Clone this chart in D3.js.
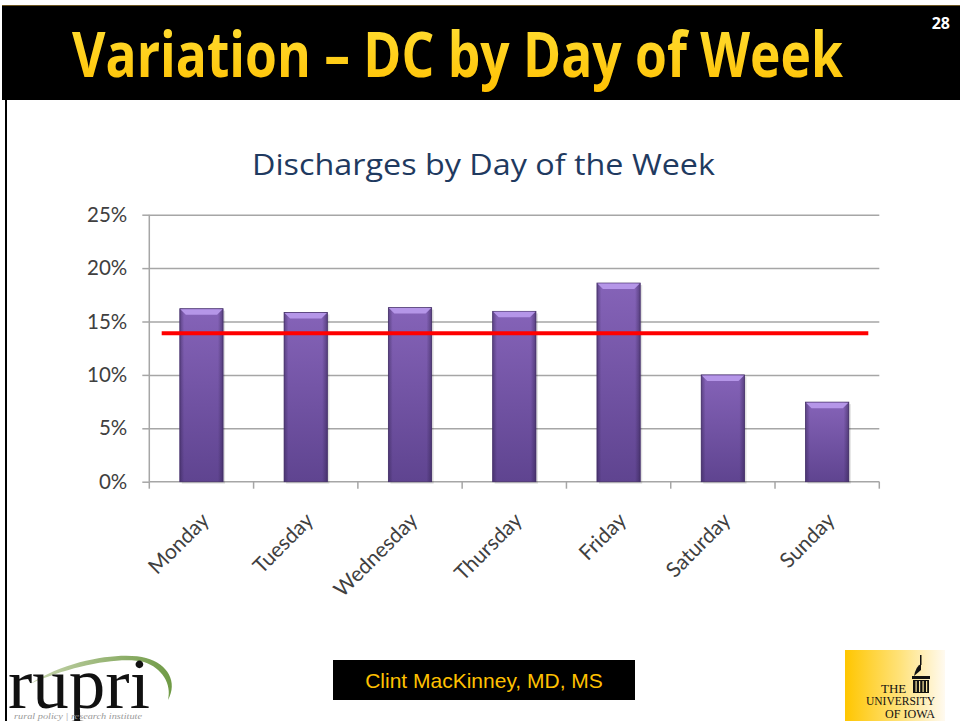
<!DOCTYPE html>
<html>
<head>
<meta charset="utf-8">
<script src="https://cdn.jsdelivr.net/npm/d3@7"></script>
<style>
	html, body { margin: 0; padding: 0; background: #fff; }
	svg { display: block; }
</style>
</head>
<body>
<div id="slide"></div>
<script>
const DAYS = ["Monday", "Tuesday", "Wednesday", "Thursday", "Friday", "Saturday", "Sunday"];
const SHARES = [16.2, 15.85, 16.3, 15.95, 18.6, 10.0, 7.45];
const AVERAGE_SHARE = 13.9;
const Y_TICKS = [0, 5, 10, 15, 20, 25];

const width = 960;
const height = 721;
const margin = { top: 214.7, right: 80.7, bottom: 239.3, left: 149.3 };

let svg = d3.select("#slide")
	.append("svg")
		.attr("width", width)
		.attr("height", height)
		.attr("viewBox", `0 0 ${width} ${height}`);

let defs = svg.append("defs");

let titleGrad = defs.append("linearGradient")
	.attr("id", "titleGrad")
	.attr("x1", 0).attr("y1", 0).attr("x2", 0).attr("y2", 1);
titleGrad.append("stop").attr("offset", "0%").attr("stop-color", "#ffe23a");
titleGrad.append("stop").attr("offset", "100%").attr("stop-color", "#ffbf00");

let barGrad = defs.append("linearGradient")
	.attr("id", "barGrad")
	.attr("x1", 0).attr("y1", 0).attr("x2", 0).attr("y2", 1);
barGrad.append("stop").attr("offset", "0%").attr("stop-color", "#8563b8");
barGrad.append("stop").attr("offset", "100%").attr("stop-color", "#5f4490");

let barSide = defs.append("linearGradient")
	.attr("id", "barSide")
	.attr("x1", 0).attr("y1", 0).attr("x2", 1).attr("y2", 0);
barSide.append("stop").attr("offset", "0%").attr("stop-color", "#2e1f4a").attr("stop-opacity", 0.45);
barSide.append("stop").attr("offset", "10%").attr("stop-color", "#2e1f4a").attr("stop-opacity", 0);
barSide.append("stop").attr("offset", "88%").attr("stop-color", "#2e1f4a").attr("stop-opacity", 0);
barSide.append("stop").attr("offset", "100%").attr("stop-color", "#2e1f4a").attr("stop-opacity", 0.5);

let iowaGrad = defs.append("linearGradient")
	.attr("id", "iowaGrad")
	.attr("x1", 0).attr("y1", 0).attr("x2", 1).attr("y2", 0);
iowaGrad.append("stop").attr("offset", "0%").attr("stop-color", "#ffc600");
iowaGrad.append("stop").attr("offset", "55%").attr("stop-color", "#ffe27a");
iowaGrad.append("stop").attr("offset", "100%").attr("stop-color", "#fffaf0");

let swooshGrad = defs.append("linearGradient")
	.attr("id", "swooshGrad")
	.attr("x1", 0).attr("y1", 0).attr("x2", 1).attr("y2", 0);
swooshGrad.append("stop").attr("offset", "0%").attr("stop-color", "#c9d6b0");
swooshGrad.append("stop").attr("offset", "100%").attr("stop-color", "#6f9a45");

// slide frame
svg.append("rect")
	.attr("x", 2).attr("y", 5)
	.attr("width", width - 2).attr("height", 95)
	.attr("fill", "#000");
svg.append("line")
	.attr("x1", 2).attr("x2", width)
	.attr("y1", 5.5).attr("y2", 5.5)
	.attr("stroke", "#6b5420");
svg.append("line")
	.attr("x1", 6).attr("x2", 6)
	.attr("y1", 100).attr("y2", height)
	.attr("stroke", "#000")
	.attr("stroke-width", 2);

svg.append("text")
	.attr("x", 72)
	.attr("y", 77)
	.attr("textLength", 771)
	.attr("lengthAdjust", "spacingAndGlyphs")
	.attr("font-family", "'Open Sans', sans-serif")
	.attr("font-weight", "bold")
	.attr("font-size", 62)
	.attr("fill", "url(#titleGrad)")
	.text("Variation – DC by Day of Week");

svg.append("text")
	.attr("x", 950)
	.attr("y", 29)
	.attr("text-anchor", "end")
	.attr("font-family", "'Open Sans', sans-serif")
	.attr("font-weight", "bold")
	.attr("font-size", 16)
	.attr("fill", "#fff")
	.text("28");

// chart
const innerWidth = width - margin.left - margin.right;
const innerHeight = height - margin.top - margin.bottom;

let x = d3.scaleBand()
	.domain(DAYS)
	.range([0, innerWidth]);
let y = d3.scaleLinear()
	.domain([0, 25])
	.range([innerHeight, 0]);

svg.append("text")
	.attr("x", 252)
	.attr("y", 175)
	.attr("textLength", 463)
	.attr("lengthAdjust", "spacingAndGlyphs")
	.attr("font-family", "'Open Sans', sans-serif")
	.attr("font-size", 29)
	.attr("fill", "#1f3a60")
	.text("Discharges by Day of the Week");

let chart = svg.append("g")
	.attr("transform", `translate(${margin.left}, ${margin.top})`);

let grid = chart.append("g")
	.attr("class", "grid")
	.call(d3.axisLeft(y).tickValues(Y_TICKS.slice(1)).tickSize(-innerWidth).tickFormat(""));
grid.select(".domain").remove();
grid.selectAll("line")
	.attr("stroke", "#a6a6a6")
	.attr("stroke-width", 1.5);

let axisY = chart.append("g")
	.attr("class", "axis y")
	.call(d3.axisLeft(y).tickValues(Y_TICKS).tickSize(7).tickPadding(15).tickFormat(d => d + "%"));
axisY.select(".domain")
	.attr("stroke", "#a6a6a6")
	.attr("stroke-width", 1.5)
	.attr("d", `M0,${innerHeight}V0`);
axisY.selectAll("line")
	.attr("stroke", "#a6a6a6")
	.attr("stroke-width", 1.5);
axisY.selectAll("text")
	.attr("font-family", "Lato, sans-serif")
	.attr("font-size", 20.5)
	.attr("fill", "#404040");

let axisX = chart.append("g")
	.attr("class", "axis x")
	.attr("transform", `translate(0, ${innerHeight})`);
axisX.append("line")
	.attr("x1", 0).attr("x2", innerWidth)
	.attr("stroke", "#a6a6a6")
	.attr("stroke-width", 1.5);
axisX.selectAll("line.tick")
	.data(DAYS.map(d => x(d)).concat([innerWidth]))
	.enter()
	.append("line")
		.attr("class", "tick")
		.attr("x1", d => d).attr("x2", d => d)
		.attr("y2", 7)
		.attr("stroke", "#a6a6a6")
		.attr("stroke-width", 1.5);
axisX.selectAll("text")
	.data(DAYS)
	.enter()
	.append("text")
		.attr("transform", d => `translate(${x(d) + x.bandwidth() / 2 + 9}, 40) rotate(-45)`)
		.attr("text-anchor", "end")
		.attr("font-family", "Lato, sans-serif")
		.attr("font-size", 21)
		.attr("fill", "#404040")
		.text(d => d);

const barWidth = x.bandwidth() * 0.415;
let bars = chart.append("g")
	.attr("class", "bars")
	.selectAll("g")
		.data(DAYS.map((d, i) => ({ day: d, value: SHARES[i] })))
		.enter()
		.append("g")
			.attr("transform", d => `translate(${x(d.day) + (x.bandwidth() - barWidth) / 2}, 0)`);
bars.append("rect")
	.attr("x", 2)
	.attr("y", d => y(d.value) + 2)
	.attr("width", barWidth)
	.attr("height", d => innerHeight - y(d.value))
	.attr("fill", "#000")
	.attr("opacity", 0.12);
bars.append("rect")
	.attr("y", d => y(d.value))
	.attr("width", barWidth)
	.attr("height", d => innerHeight - y(d.value))
	.attr("fill", "url(#barGrad)")
	.attr("stroke", "#4a3470")
	.attr("stroke-width", 0.8);
bars.append("rect")
	.attr("y", d => y(d.value))
	.attr("width", barWidth)
	.attr("height", d => innerHeight - y(d.value))
	.attr("fill", "url(#barSide)");
bars.append("path")
	.attr("d", d => {
		let top = y(d.value);
		return `M0.5,${top + 0.5}H${barWidth - 0.5}L${barWidth - 6},${top + 6}H6Z`;
	})
	.attr("fill", "#b596e8");

chart.append("line")
	.attr("x1", 12.4)
	.attr("x2", innerWidth - 11)
	.attr("y1", y(AVERAGE_SHARE))
	.attr("y2", y(AVERAGE_SHARE))
	.attr("stroke", "#ff0000")
	.attr("stroke-width", 4);

// footer
let rupri = svg.append("g").attr("class", "rupri");
rupri.append("path")
	.attr("d", "M30,684 C70,658 124,652 146,658 C168,664 178,682 168,700 C172,684 162,668 144,662 C120,656 70,666 30,684 Z")
	.attr("fill", "url(#swooshGrad)");
rupri.append("text")
	.attr("x", 8)
	.attr("y", 708)
	.attr("textLength", 142)
	.attr("lengthAdjust", "spacingAndGlyphs")
	.attr("font-family", "'Liberation Serif', serif")
	.attr("font-size", 72)
	.attr("fill", "#111")
	.text("rupri");
rupri.append("text")
	.attr("x", 14)
	.attr("y", 719)
	.attr("textLength", 128)
	.attr("lengthAdjust", "spacingAndGlyphs")
	.attr("font-family", "'Liberation Serif', serif")
	.attr("font-style", "italic")
	.attr("font-size", 9)
	.attr("fill", "#9a9a9a")
	.text("rural policy | research institute");

svg.append("rect")
	.attr("x", 333).attr("y", 660)
	.attr("width", 302).attr("height", 40)
	.attr("fill", "#000");
svg.append("text")
	.attr("x", 484)
	.attr("y", 688)
	.attr("text-anchor", "middle")
	.attr("font-family", "'Liberation Sans', Arial, sans-serif")
	.attr("font-size", 21)
	.attr("fill", "#ffc000")
	.text("Clint MacKinney, MD, MS");

let iowa = svg.append("g").attr("class", "iowa");
iowa.append("rect")
	.attr("x", 845).attr("y", 650)
	.attr("width", 100).attr("height", 71)
	.attr("fill", "url(#iowaGrad)");
// old capitol mark
iowa.append("rect").attr("x", 912).attr("y", 676).attr("width", 18).attr("height", 3).attr("fill", "#111");
iowa.append("rect").attr("x", 913).attr("y", 680).attr("width", 16).attr("height", 13).attr("fill", "#111");
iowa.append("path").attr("d", "M914,676 Q916,666 921,664 L921,670 Z").attr("fill", "#111");
iowa.append("rect").attr("x", 920).attr("y", 655).attr("width", 1.5).attr("height", 10).attr("fill", "#111");
for (let cx of [915.5, 919, 922.5, 926])
	iowa.append("rect").attr("x", cx).attr("y", 681).attr("width", 1.2).attr("height", 11).attr("fill", "#fbe7a0");
iowa.append("text")
	.attr("x", 881).attr("y", 693)
	.attr("font-family", "'Liberation Serif', serif")
	.attr("font-size", 13)
	.attr("fill", "#111")
	.text("THE");
iowa.append("text")
	.attr("x", 866).attr("y", 705)
	.attr("textLength", 69)
	.attr("lengthAdjust", "spacingAndGlyphs")
	.attr("font-family", "'Liberation Serif', serif")
	.attr("font-size", 12)
	.attr("fill", "#111")
	.text("UNIVERSITY");
iowa.append("text")
	.attr("x", 885).attr("y", 718)
	.attr("textLength", 50)
	.attr("lengthAdjust", "spacingAndGlyphs")
	.attr("font-family", "'Liberation Serif', serif")
	.attr("font-size", 12)
	.attr("fill", "#111")
	.text("OF IOWA");
</script>
</body>
</html>
